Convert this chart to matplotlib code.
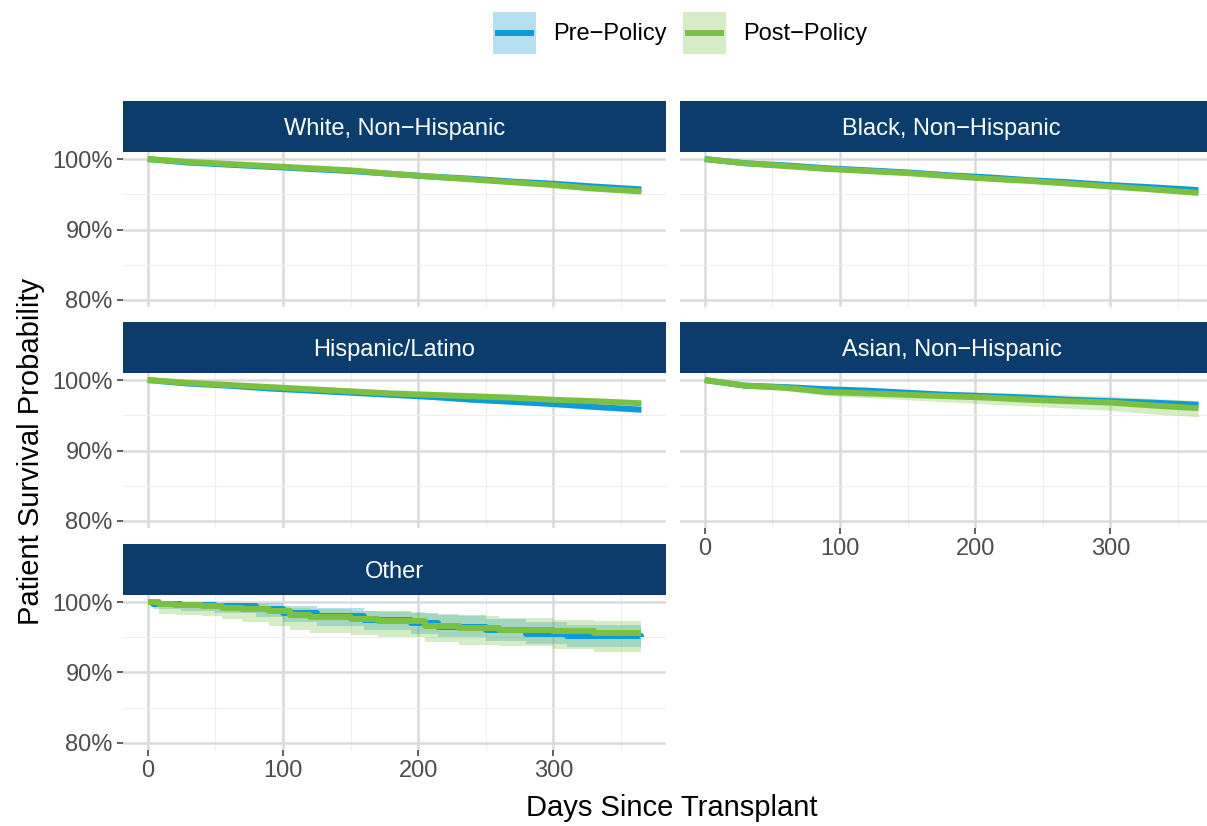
import numpy as np
import matplotlib.pyplot as plt
from matplotlib.patches import Rectangle
from matplotlib.lines import Line2D
from matplotlib.legend_handler import HandlerBase
from matplotlib.ticker import PercentFormatter

plt.rcParams['font.family'] = ['Liberation Sans', 'DejaVu Sans']

# facet titles and legend labels
panels = ['White, Non−Hispanic', 'Black, Non−Hispanic', 'Hispanic/Latino',
          'Asian, Non−Hispanic', 'Other']
periods = ['Pre−Policy', 'Post−Policy']
x_ticks = [0, 100, 200, 300]
y_ticks = [0.8, 0.9, 1.0]

# large groups: survival read at 30-day marks
days = [0, 30, 60, 90, 120, 150, 180, 210, 240, 270, 300, 330, 365]

white_pre = [1.000, 0.995, 0.992, 0.989, 0.986, 0.983, 0.979, 0.975, 0.972, 0.968, 0.965, 0.961, 0.957]
white_pre_lo = [1.000, 0.994, 0.991, 0.988, 0.985, 0.982, 0.978, 0.974, 0.971, 0.967, 0.963, 0.959, 0.955]
white_pre_hi = [1.000, 0.996, 0.993, 0.990, 0.987, 0.984, 0.980, 0.976, 0.973, 0.969, 0.966, 0.962, 0.959]
white_post = [1.000, 0.996, 0.993, 0.990, 0.987, 0.984, 0.979, 0.975, 0.971, 0.967, 0.963, 0.958, 0.954]
white_post_lo = [1.000, 0.995, 0.992, 0.989, 0.986, 0.982, 0.977, 0.973, 0.969, 0.965, 0.961, 0.956, 0.952]
white_post_hi = [1.000, 0.997, 0.994, 0.991, 0.988, 0.985, 0.981, 0.977, 0.973, 0.969, 0.965, 0.960, 0.956]

black_pre = [1.000, 0.994, 0.991, 0.987, 0.984, 0.981, 0.977, 0.974, 0.970, 0.967, 0.963, 0.960, 0.956]
black_pre_lo = [1.000, 0.993, 0.989, 0.985, 0.982, 0.979, 0.975, 0.971, 0.967, 0.964, 0.960, 0.957, 0.953]
black_pre_hi = [1.000, 0.995, 0.992, 0.989, 0.986, 0.983, 0.979, 0.976, 0.972, 0.969, 0.965, 0.962, 0.958]
black_post = [1.000, 0.994, 0.990, 0.986, 0.983, 0.980, 0.976, 0.972, 0.969, 0.965, 0.961, 0.957, 0.952]
black_post_lo = [1.000, 0.993, 0.988, 0.984, 0.981, 0.977, 0.973, 0.969, 0.966, 0.962, 0.958, 0.954, 0.949]
black_post_hi = [1.000, 0.995, 0.992, 0.988, 0.985, 0.982, 0.978, 0.974, 0.971, 0.967, 0.963, 0.959, 0.955]

hisp_pre = [1.000, 0.995, 0.992, 0.988, 0.985, 0.982, 0.979, 0.976, 0.972, 0.969, 0.966, 0.962, 0.958]
hisp_pre_lo = [1.000, 0.994, 0.990, 0.986, 0.983, 0.980, 0.976, 0.973, 0.969, 0.966, 0.962, 0.958, 0.954]
hisp_pre_hi = [1.000, 0.996, 0.993, 0.990, 0.987, 0.984, 0.981, 0.978, 0.975, 0.972, 0.969, 0.965, 0.962]
hisp_post = [1.000, 0.996, 0.993, 0.990, 0.987, 0.984, 0.981, 0.979, 0.977, 0.975, 0.972, 0.970, 0.967]
hisp_post_lo = [1.000, 0.995, 0.992, 0.988, 0.985, 0.982, 0.979, 0.977, 0.975, 0.972, 0.969, 0.967, 0.964]
hisp_post_hi = [1.000, 0.997, 0.994, 0.991, 0.989, 0.986, 0.983, 0.981, 0.979, 0.977, 0.975, 0.973, 0.970]

asian_pre = [1.000, 0.992, 0.990, 0.987, 0.985, 0.982, 0.979, 0.977, 0.975, 0.972, 0.970, 0.968, 0.965]
asian_pre_lo = [1.000, 0.990, 0.988, 0.984, 0.982, 0.979, 0.976, 0.974, 0.971, 0.968, 0.966, 0.964, 0.961]
asian_pre_hi = [1.000, 0.994, 0.992, 0.990, 0.988, 0.985, 0.982, 0.980, 0.978, 0.976, 0.974, 0.972, 0.969]
asian_post = [1.000, 0.992, 0.989, 0.983, 0.981, 0.979, 0.977, 0.975, 0.972, 0.970, 0.968, 0.964, 0.960]
asian_post_lo = [1.000, 0.989, 0.985, 0.978, 0.975, 0.972, 0.969, 0.966, 0.963, 0.960, 0.957, 0.952, 0.948]
asian_post_hi = [1.000, 0.995, 0.993, 0.988, 0.987, 0.985, 0.984, 0.983, 0.981, 0.979, 0.977, 0.974, 0.971]

# small group: event times
other_pre_days = [0, 4, 25, 50, 80, 100, 125, 160, 195, 215, 250, 280, 310, 365]
other_pre = [1.000, 0.997, 0.996, 0.994, 0.990, 0.985, 0.980, 0.975, 0.970, 0.965, 0.960, 0.955, 0.952, 0.950]
other_pre_lo = [1.000, 0.990, 0.988, 0.985, 0.979, 0.972, 0.966, 0.961, 0.955, 0.950, 0.945, 0.940, 0.936, 0.934]
other_pre_hi = [1.000, 1.000, 1.000, 0.999, 0.998, 0.995, 0.992, 0.988, 0.984, 0.981, 0.976, 0.971, 0.968, 0.967]
other_post_days = [0, 8, 20, 40, 55, 70, 90, 105, 120, 150, 170, 205, 230, 260, 300, 330, 365]
other_post = [1.000, 0.997, 0.996, 0.994, 0.992, 0.990, 0.987, 0.982, 0.979, 0.976, 0.973, 0.966, 0.963, 0.961, 0.959, 0.956, 0.956]
other_post_lo = [1.000, 0.983, 0.982, 0.980, 0.976, 0.972, 0.966, 0.960, 0.956, 0.953, 0.951, 0.944, 0.939, 0.937, 0.934, 0.929, 0.929]
other_post_hi = [1.000, 1.000, 1.000, 0.999, 0.998, 0.997, 0.995, 0.992, 0.990, 0.988, 0.986, 0.983, 0.980, 0.978, 0.975, 0.973, 0.973]

series = [
    (days, white_pre, white_pre_lo, white_pre_hi, days, white_post, white_post_lo, white_post_hi, False),
    (days, black_pre, black_pre_lo, black_pre_hi, days, black_post, black_post_lo, black_post_hi, False),
    (days, hisp_pre, hisp_pre_lo, hisp_pre_hi, days, hisp_post, hisp_post_lo, hisp_post_hi, False),
    (days, asian_pre, asian_pre_lo, asian_pre_hi, days, asian_post, asian_post_lo, asian_post_hi, False),
    (other_pre_days, other_pre, other_pre_lo, other_pre_hi,
     other_post_days, other_post, other_post_lo, other_post_hi, True),
]

blue = '#0F9BD7'
green = '#7AC143'
navy = '#0B3C6B'
W, H = 1207, 826


# ggplot-style key: light square with the line through its middle
class KeyHandler(HandlerBase):
    def create_artists(self, legend, orig_handle, xdescent, ydescent,
                       width, height, fontsize, trans):
        col = orig_handle.get_color()
        rect = Rectangle((-xdescent, -ydescent), width, height, facecolor=col,
                         alpha=0.3, lw=0, transform=trans)
        y = height / 2 - ydescent
        line = Line2D([-xdescent + 0.05 * width, -xdescent + 0.95 * width], [y, y],
                      color=col, lw=4.3, solid_capstyle='butt', transform=trans)
        return [rect, line]


fig = plt.figure(figsize=(W / 100, H / 100), dpi=100)

col_x = [123, 680]
row_top = [152, 373, 595]
pw, ph, sh = 543, 155, 51

for i, name in enumerate(panels):
    r, c = divmod(i, 2)
    x0, top = col_x[c], row_top[r]
    ax = fig.add_axes([x0 / W, 1 - (top + ph) / H, pw / W, ph / H])
    sax = fig.add_axes([x0 / W, 1 - top / H, pw / W, sh / H])
    sax.set_facecolor(navy)
    sax.set_xticks([]); sax.set_yticks([])
    for s in sax.spines.values():
        s.set_visible(False)
    sax.text(0.5, 0.45, name, color='white', fontsize=17, ha='center', va='center',
             transform=sax.transAxes)

    d1, s1, l1, h1, d2, s2, l2, h2, step = series[i]
    st = 'post' if step else None
    ds = 'steps-post' if step else 'default'
    ax.fill_between(d1, l1, h1, color=blue, alpha=0.3, lw=0, step=st)
    ax.plot(d1, s1, color=blue, lw=4.3, drawstyle=ds, solid_capstyle='butt')
    ax.fill_between(d2, l2, h2, color=green, alpha=0.3, lw=0, step=st)
    ax.plot(d2, s2, color=green, lw=4.3, drawstyle=ds, solid_capstyle='butt')

    ax.set_xlim(-18.25, 383.25)
    ax.set_ylim(0.79, 1.01)
    ax.set_xticks(x_ticks)
    ax.set_xticks([50, 150, 250, 350], minor=True)
    ax.set_yticks(y_ticks)
    ax.set_yticks([0.85, 0.95], minor=True)
    ax.yaxis.set_major_formatter(PercentFormatter(xmax=1, decimals=0))
    ax.grid(True, which='major', color='#DADADA', lw=1.8)
    ax.grid(True, which='minor', color='#EFEFEF', lw=0.8)
    ax.set_axisbelow(True)
    for s in ax.spines.values():
        s.set_visible(False)
    ax.tick_params(which='minor', length=0)
    ax.tick_params(which='major', length=4.3, width=1.1, color='#333333',
                   labelcolor='#4D4D4D', labelsize=17, pad=3)
    show_x = (c == 0 and r == 2) or (c == 1 and r == 1)
    ax.tick_params(axis='x', bottom=show_x, labelbottom=show_x)
    ax.tick_params(axis='y', left=(c == 0), labelleft=(c == 0))

fig.text(672 / W, 1 - 808 / H, 'Days Since Transplant', fontsize=21,
         ha='center', va='center')
fig.text(31 / W, 1 - 451 / H, 'Patient Survival Probability', fontsize=21,
         ha='center', va='center', rotation=90)

handles = [Line2D([], [], color=blue), Line2D([], [], color=green)]
fig.legend(handles, periods, loc='center', bbox_to_anchor=(680 / W, 1 - 33 / H),
           ncol=2, frameon=False, fontsize=17, handlelength=1.83, handleheight=2.3,
           handletextpad=0.7, columnspacing=0.7, borderpad=0,
           handler_map={Line2D: KeyHandler()})

fig.savefig('out.png', dpi=100)
